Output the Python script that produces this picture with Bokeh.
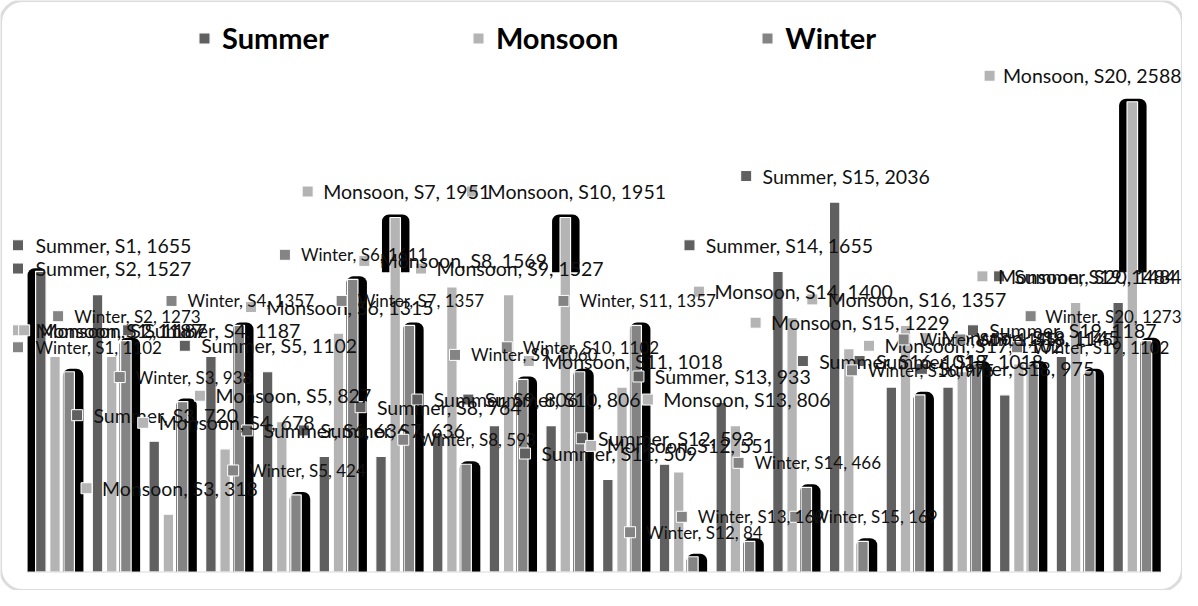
from bokeh.plotting import figure
from bokeh.models import Range1d, ColumnDataSource, BoxAnnotation, Legend, LegendItem
from bokeh.embed import file_html
from bokeh.resources import INLINE
from bokeh.core.properties import value

# ---------------- data ----------------
stations = ["S1", "S2", "S3", "S4", "S5", "S6", "S7", "S8", "S9", "S10",
            "S11", "S12", "S13", "S14", "S15", "S16", "S17", "S18", "S19", "S20"]
summer = [1655, 1527, 720, 1187, 1102, 636, 636, 764, 806, 806,
          509, 593, 933, 1655, 2036, 1018, 1018, 975, 1187, 1484]
monsoon = [1187, 1187, 318, 678, 827, 1315, 1951, 1569, 1527, 1951,
           1018, 551, 806, 1400, 1229, 1357, 1102, 1145, 1484, 2588]
winter = [1102, 1273, 938, 1357, 424, 1611, 1357, 593, 1060, 1102,
          1357, 84, 169, 466, 169, 975, 1145, 1145, 1102, 1273]
series = ["Summer", "Monsoon", "Winter"]
values = {"Summer": summer, "Monsoon": monsoon, "Winter": winter}

# ---------------- style / layout ----------------
COLORS = {"Summer": "#606060", "Monsoon": "#b4b4b4", "Winter": "#848484"}
DODGE = {"Summer": -0.25, "Monsoon": 0.0, "Winter": 0.25}
BAR_W = 0.185
W, H = 1182, 590
X_START, X_END = 0.0388, 20.885
Y_START, Y_END = -101.8, 3145.3
px_x = W / (X_END - X_START)
px_y = H / (Y_END - Y_START)

FONT = "Lato"
FONT_PX = {"Summer": 19.5, "Monsoon": 19.5, "Winter": 17.0}
LIFT = {"Summer": 26, "Monsoon": 26, "Winter": 24.5}
KEY, KEY_GAP = 11, 12
L_BOUND, R_BOUND = 12, 1181   # canvas px limits for data labels

# approximate Lato advance widths (em)
LATO_W = {' ': 0.193, ',': 0.223, 'S': 0.509, 'u': 0.556, 'm': 0.84, 'e': 0.52,
          'r': 0.37, 'M': 0.893, 'o': 0.564, 'n': 0.556, 's': 0.426, 'W': 0.975,
          'i': 0.238, 't': 0.366}


def text_w(t, fs):
    return sum(LATO_W.get(c, 0.58) for c in t) * fs


def cx_px(x):
    return (x - X_START) * px_x


def cy_px(v):
    return (Y_END - v) * px_y


def x_data(px):
    return X_START + px / px_x


def y_data(py):
    return Y_END - py / px_y


p = figure(width=W, height=H, x_range=Range1d(X_START, X_END),
           y_range=Range1d(Y_START, Y_END), output_backend="svg",
           toolbar_location=None, min_border=0, x_axis_type=None, y_axis_type=None)
p.outline_line_color = None
p.background_fill_color = "white"
p.border_fill_color = "white"

# halos (shadow effects) -- style: (stations, left px, right px, floor value)
HALOS = {
    "Summer": (["S1"], 8, 0, 0),
    "Monsoon": (["S7", "S10", "S20"], 8, 9, 1650),
    "Winter": (stations, 1, 9, 0),
}

bar_r = {}
for name in series:
    sel, lpx, rpx, floor = HALOS[name]
    half = BAR_W * px_x / 2
    L, R, T, B = [], [], [], []
    for st in sel:
        i = stations.index(st)
        xc = i + 1 + DODGE[name]
        v = values[name][i]
        L.append(xc - (half + lpx) / px_x)
        R.append(xc + (half + rpx) / px_x)
        T.append(v + 3 / px_y)
        B.append(floor)
    p.quad(left=L, right=R, top=T, bottom=B, fill_color="black",
           line_color=None, border_radius=(7, 7, 0, 0))
    xs = [i + 1 + DODGE[name] for i in range(len(stations))]
    bar_r[name] = p.vbar(x=xs, top=values[name], bottom=0, width=BAR_W,
                         fill_color=COLORS[name], line_color="white", line_width=1.2)

# baseline
p.segment(x0=[0.5], y0=[0], x1=[len(stations) + 0.5], y1=[0],
          line_color="#d9d9d9", line_width=1)

# data labels
for name in series:
    fs = FONT_PX[name]
    groups = {"center": dict(x=[], y=[], t=[]), "left": dict(x=[], y=[], t=[]),
              "right": dict(x=[], y=[], t=[])}
    kx, ky = [], []
    for i, st in enumerate(stations):
        v = values[name][i]
        t = f"{name}, {st}, {v}"
        tw = text_w(t, fs)
        wl = KEY + KEY_GAP + tw
        cx = cx_px(i + 1 + DODGE[name])
        cy = cy_px(v) - LIFT[name]
        left = cx - wl / 2
        if left < L_BOUND:
            al, tx, kxp = "left", L_BOUND + KEY + KEY_GAP, L_BOUND + KEY / 2
        elif left + wl > R_BOUND:
            al, tx, kxp = "right", R_BOUND, R_BOUND - tw - KEY_GAP - KEY / 2
        else:
            al, tx, kxp = "center", cx + (KEY + KEY_GAP) / 2, left + KEY / 2
        groups[al]["x"].append(x_data(tx))
        groups[al]["y"].append(y_data(cy))
        groups[al]["t"].append(t)
        kx.append(x_data(kxp))
        ky.append(y_data(cy))
    p.rect(x=kx, y=ky, width=KEY, height=KEY, width_units="screen",
           height_units="screen", fill_color=COLORS[name], line_color="white",
           line_width=1)
    for al, g in groups.items():
        if not g["t"]:
            continue
        src = ColumnDataSource(dict(x=g["x"], y=g["y"], t=g["t"]))
        p.text(x="x", y="y", text="t", source=src, text_font=value(FONT),
               text_font_size=value(f"{fs}px"), text_align=al,
               text_baseline="middle", text_color="#111111")

legend = Legend(items=[LegendItem(label=n, renderers=[bar_r[n]]) for n in series],
                orientation="horizontal", location=(197, 535), spacing=142,
                padding=0, margin=0, glyph_width=14, glyph_height=14,
                label_standoff=11, label_text_font=FONT,
                label_text_font_style="bold", label_text_font_size="29px",
                label_text_color="#000000",
                border_line_color=None, background_fill_alpha=0)
p.add_layout(legend)

p.add_layout(BoxAnnotation(fill_alpha=0, line_color="#8a8a8a", line_width=3,
                           border_radius=22))

open("out.html", "w").write(file_html(p, INLINE))
